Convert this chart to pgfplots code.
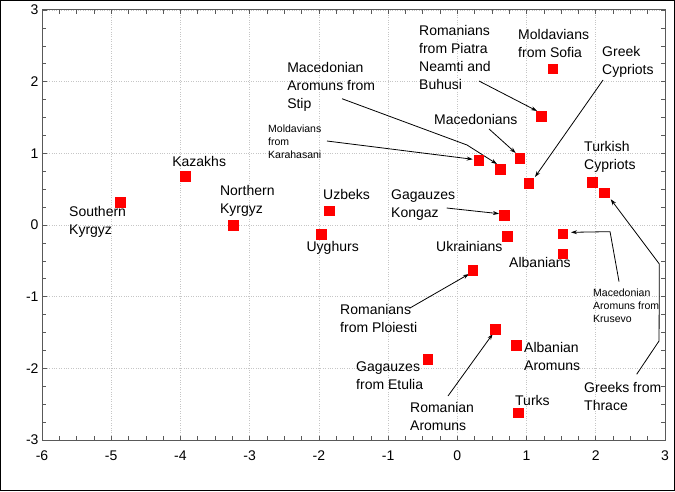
\documentclass[border=0pt]{standalone}
\usepackage{fontspec}
\setmainfont{Liberation Sans}
\usepackage{pgfplots}
\pgfplotsset{compat=1.18}
\usetikzlibrary{arrows.meta}

\begin{document}
\begin{tikzpicture}[
    lab/.style={anchor=west, align=left, inner sep=0pt, font=\fontsize{14}{18}\selectfont},
    slab/.style={anchor=west, align=left, inner sep=0pt, font=\fontsize{10.5}{13}\selectfont},
    arr/.style={-{Stealth[length=6pt,width=4pt]}, line width=0.8pt, black},
]
\begin{axis}[
    scale only axis,
    width=623pt, height=430pt,
    xmin=-6, xmax=3, ymin=-3, ymax=3,
    xtick={-6,-5,...,3}, ytick={-3,-2,...,3},
    minor tick num=3,
    tick pos=both,
    xticklabel pos=left, yticklabel pos=left,
    tick align=inside,
    major tick length=4.5pt, minor tick length=4pt,
    axis line style={draw=black!65, line width=1pt},
    every tick/.style={draw=black!65, line width=0.6pt},
    grid=major,
    major grid style={dotted, gray!45, line width=0.6pt},
    tick label style={font=\fontsize{14}{16}\selectfont},
    xticklabel style={yshift=-7pt},
    /pgf/number format/assume math mode=true,
    clip=false,
]
% points: Southern Kyrgyz, Kazakhs, Northern Kyrgyz, Uzbeks, Uyghurs,
% Moldavians Karahasani, Mac. Aromuns Stip, Macedonians, Romanians Piatra,
% Moldavians Sofia, Greek Cypriots, Turkish Cypriots, Greeks Thrace,
% Gagauzes Kongaz, Ukrainians, Mac. Aromuns Krusevo, Albanians,
% Romanians Ploiesti, Romanian Aromuns, Albanian Aromuns, Turks, Gagauzes Etulia
\addplot[only marks, mark=square*, mark size=4.8pt,
         mark options={fill=red, draw=red}] coordinates {
    (-4.87,0.32) (-3.93,0.68) (-3.24,0.00) (-1.85,0.20) (-1.97,-0.13)
    (0.31,0.90) (0.62,0.78) (0.90,0.93) (1.21,1.52) (1.38,2.18)
    (1.03,0.58) (1.95,0.60) (2.12,0.45)
    (0.68,0.14) (0.72,-0.16) (1.52,-0.12) (1.52,-0.40)
    (0.22,-0.63) (0.55,-1.45) (0.85,-1.68) (0.88,-2.62) (-0.43,-1.87)
};

% labels
\node[lab] at (axis cs:-5.61,0.05) {Southern\\Kyrgyz};
\node[lab] at (axis cs:-4.12,0.88) {Kazakhs};
\node[lab] at (axis cs:-3.43,0.33) {Northern\\Kyrgyz};
\node[lab] at (axis cs:-1.94,0.43) {Uzbeks};
\node[lab] at (axis cs:-2.18,-0.32) {Uyghurs};
\node[slab] at (axis cs:-2.735,1.16) {Moldavians\\from\\Karahasani};
\node[lab] at (axis cs:-2.46,1.93) {Macedonian\\Aromuns from\\Stip};
\node[lab] at (axis cs:-0.554,2.344) {Romanians\\from Piatra\\Neamti and\\Buhusi};
\node[lab] at (axis cs:0.877,2.53) {Moldavians\\from Sofia};
\node[lab] at (axis cs:2.09,2.27) {Greek\\Cypriots};
\node[lab] at (axis cs:-0.337,1.479) {Macedonians};
\node[lab] at (axis cs:1.83,0.949) {Turkish\\Cypriots};
\node[lab] at (axis cs:-0.958,0.279) {Gagauzes\\Kongaz};
\node[lab] at (axis cs:-0.308,-0.303) {Ukrainians};
\node[lab] at (axis cs:0.747,-0.53) {Albanians};
\node[slab] at (axis cs:1.96,-1.13) {Macedonian\\Aromuns from\\Krusevo};
\node[lab] at (axis cs:-1.695,-1.305) {Romanians\\from Ploiesti};
\node[lab] at (axis cs:-1.464,-2.107) {Gagauzes\\from Etulia};
\node[lab] at (axis cs:-0.684,-2.679) {Romanian\\Aromuns};
\node[lab] at (axis cs:0.963,-1.835) {Albanian\\Aromuns};
\node[lab] at (axis cs:0.833,-2.442) {Turks};
\node[lab] at (axis cs:1.83,-2.386) {Greeks from\\Thrace};

% arrows
\draw[arr] (axis cs:-1.883,1.172) -- (axis cs:0.222,0.917);
\draw[arr] (axis cs:-1.666,1.762) -- (axis cs:0.140,1.116) -- (axis cs:0.573,0.851);
\draw[arr] (axis cs:0.313,2.009) -- (axis cs:1.151,1.591);
\draw[arr] (axis cs:2.105,2.023) -- (axis cs:1.122,0.670);
\draw[arr] (axis cs:0.458,1.340) -- (axis cs:0.843,1.005);
\draw[arr] (axis cs:-0.153,0.237) -- (axis cs:0.602,0.158);
\draw[arr] (axis cs:2.336,-0.791) -- (axis cs:2.206,-0.093) -- (axis cs:1.642,-0.102);
\draw[arr] (axis cs:-0.684,-1.158) -- (axis cs:0.169,-0.684);
\draw[arr] (axis cs:-0.135,-2.386) -- (axis cs:0.511,-1.521);
\draw[arr] (axis cs:2.591,-2.083) -- (axis cs:2.914,-1.618) -- (axis cs:2.918,-0.544) -- (axis cs:2.216,0.359);
\end{axis}
\pgfresetboundingbox
\path[use as bounding box] ([xshift=-42pt,yshift=-51pt]current axis.south west)
    rectangle ([xshift=10pt,yshift=10pt]current axis.north east);
\draw[line width=1.5pt] ([xshift=-41.25pt,yshift=-50.25pt]current axis.south west)
    rectangle ([xshift=9.25pt,yshift=9.25pt]current axis.north east);
\end{tikzpicture}
\end{document}
